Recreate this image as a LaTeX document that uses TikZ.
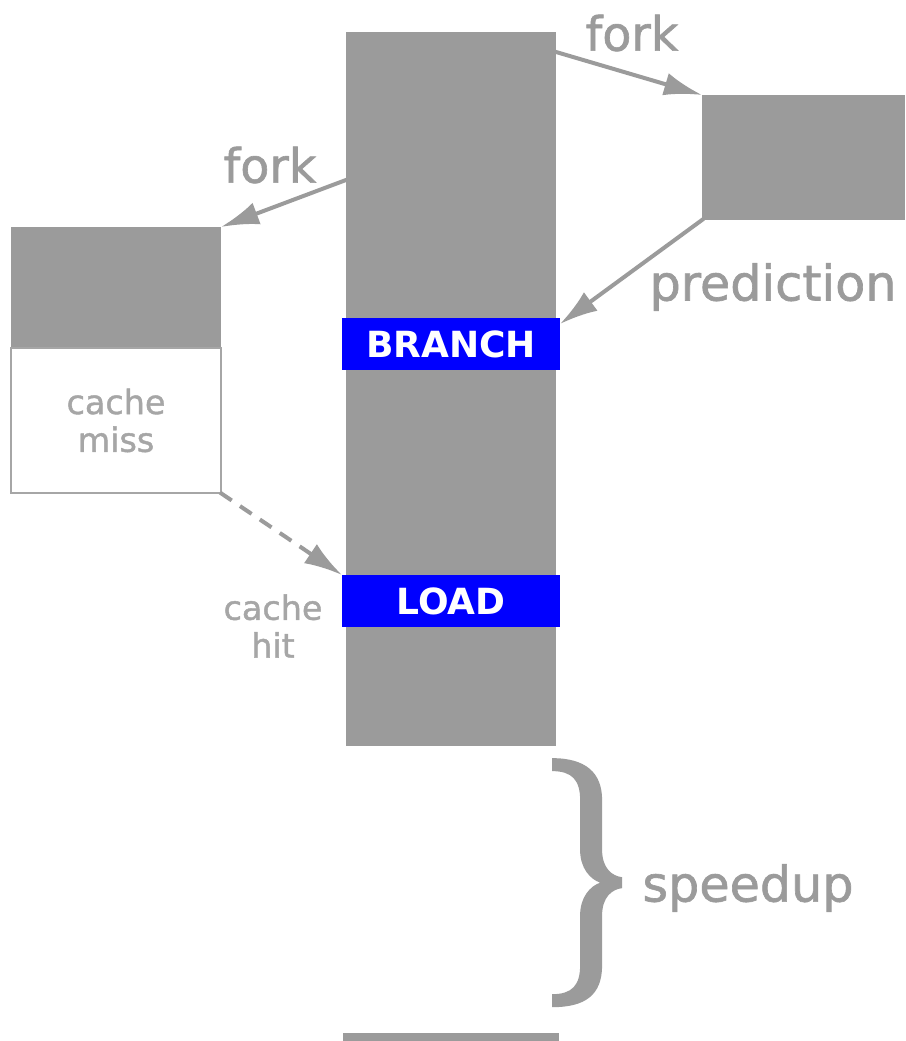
\documentclass[tikz,border=0pt]{standalone}
\usepackage{fontspec}
\setmainfont{DejaVu Sans}
\newfontfamily\heavy{DejaVu Sans}[FakeBold=1.3]
\usetikzlibrary{arrows.meta,positioning,calc}
\definecolor{stone}{HTML}{9B9B9B}
\definecolor{mist}{HTML}{A6A6A6}
\definecolor{pure}{HTML}{0000FF}
\tikzset{bar/.style={fill=stone,inner sep=0pt,outer sep=0pt},tag/.style={fill=pure,text=white,font=\bfseries\fontsize{20.5}{24}\selectfont,inner sep=0pt,outer sep=0pt,minimum width=43.6mm,minimum height=10.4mm},flow/.style={-{Latex[length=7.6mm,width=4.6mm]},line width=.8mm,draw=stone,shorten <=-.4mm},big/.style={text=stone,font=\heavy\fontsize{28}{32}\selectfont},small/.style={text=mist,font=\heavy\fontsize{19}{21.5}\selectfont,align=center}}
\begin{document}
\begin{tikzpicture}
\useasboundingbox (0,0) rectangle (18.1,20.82);
\node[bar,minimum width=42mm,minimum height=142.8mm](main)at(9.02,13.04){};
\node[bar,minimum width=40.6mm,minimum height=25mm](right)at(16.07,17.67){};
\node[bar,minimum width=42mm,minimum height=24.2mm](lefttop)at(2.32,15.07){};
\node[draw=mist,line width=.3mm,minimum width=42mm,minimum height=29mm,inner sep=0pt](leftlow)at(2.32,12.41){};
\node[tag](branch)at(9.02,13.94){BRANCH};
\node[tag](load)at(9.02,8.8){LOAD};
\node[bar,minimum width=43.2mm,minimum height=1.6mm,anchor=south](next)at(9.02,0){};
\draw[flow]($(main.north east)+(0,-.4)$)--(right.north west);
\draw[flow]($(main.north west)+(0,-2.96)$)--(lefttop.north east);
\draw[flow](right.south west)--($(branch.north east)+(0,-.12)$);
\draw[flow,dash pattern=on 2.8mm off 2mm](leftlow.south east)--(load.north west);
\node[big,font=\heavy\fontsize{27}{30}\selectfont](forka)at(12.64,20.16){fork};
\node[big,font=\heavy\fontsize{27}{30}\selectfont](forkb)at(5.4,17.52){fork};
\node[big](pred)at(15.46,15.08){prediction};
\node[small](miss)at(leftlow){cache\\miss};
\node[small](hit)at(5.46,8.3){cache\\hit};
% brace, in pixel units
\begin{scope}[shift={(0cm,20.82cm)},x=.02cm,y=-.02cm]
\fill[stone](552,758) .. controls (585,758) and (602,772) .. (602,800)--(602,850) .. controls (602,868) and (612,876) .. (622,877)--(622,888) .. controls (612,889) and (602,897) .. (602,915)--(602,965) .. controls (602,995) and (585,1007) .. (552,1007)--(552,994) .. controls (572,994) and (580,985) .. (580,965)--(580,915) .. controls (580,897) and (590,886) .. (600,882.5) .. controls (590,879) and (580,868) .. (580,850)--(580,800) .. controls (580,780) and (572,771) .. (552,771)--cycle;
\end{scope}
\node[big](speed)at(14.96,3.06){speedup};
\end{tikzpicture}
\end{document}
